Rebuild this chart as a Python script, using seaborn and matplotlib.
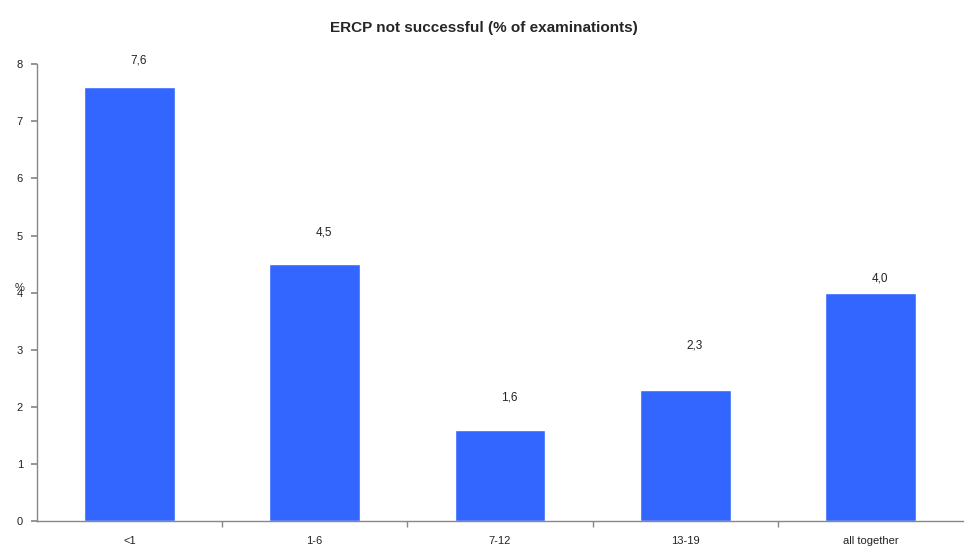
import matplotlib
matplotlib.use("Agg")
import matplotlib.pyplot as plt
import seaborn as sns
import pandas as pd

categories = ["<1", "1-6", "7-12", "13-19", "all together"]
values = [7.6, 4.5, 1.6, 2.3, 4.0]
value_labels = ["7,6", "4,5", "1,6", "2,3", "4,0"]
label_offsets = [0.46, 0.56, 0.56, 0.77, 0.25]

sns.set_theme(style="white")
plt.rcParams['font.family'] = ['Liberation Sans', 'DejaVu Sans']

df = pd.DataFrame({"cat": categories, "val": values})

fig = plt.figure(figsize=(9.67, 5.48), dpi=100)
ax = fig.add_axes([0.038, 0.049, 0.958, 0.834])
sns.barplot(data=df, x="cat", y="val", color="#3366FF", saturation=1, width=0.49, ax=ax)

ax.set_xlim(-0.5, len(categories) - 0.5)
ax.set_ylim(0, 8)
ax.set_yticks(range(0, 9))
ax.set_xlabel("")
ax.set_ylabel("%", rotation=0, fontsize=8, labelpad=-2)
ax.yaxis.set_label_coords(-0.019, 0.5)

for i, (v, lab, off) in enumerate(zip(values, value_labels, label_offsets)):
    ax.text(i + 0.05, v + off, lab, ha="center", va="center", fontsize=8.5, color="#222222")

for s in ["top", "right"]:
    ax.spines[s].set_visible(False)
for s in ["left", "bottom"]:
    ax.spines[s].set_color("#888888")
    ax.spines[s].set_linewidth(1)

ax.tick_params(axis="y", which="major", left=True, length=4, color="#888888",
               labelsize=8, labelcolor="#222222", pad=6)
ax.tick_params(axis="x", which="major", bottom=False, labelsize=8, labelcolor="#222222", pad=5)
ax.set_xticks([i + 0.5 for i in range(len(categories) - 1)], minor=True)
ax.tick_params(axis="x", which="minor", bottom=True, length=4, color="#888888")

fig.suptitle("ERCP not successful (% of examinationts)", fontsize=11, fontweight="bold",
             y=0.962, x=0.5)

fig.savefig("out.png", dpi=100, facecolor="white")
